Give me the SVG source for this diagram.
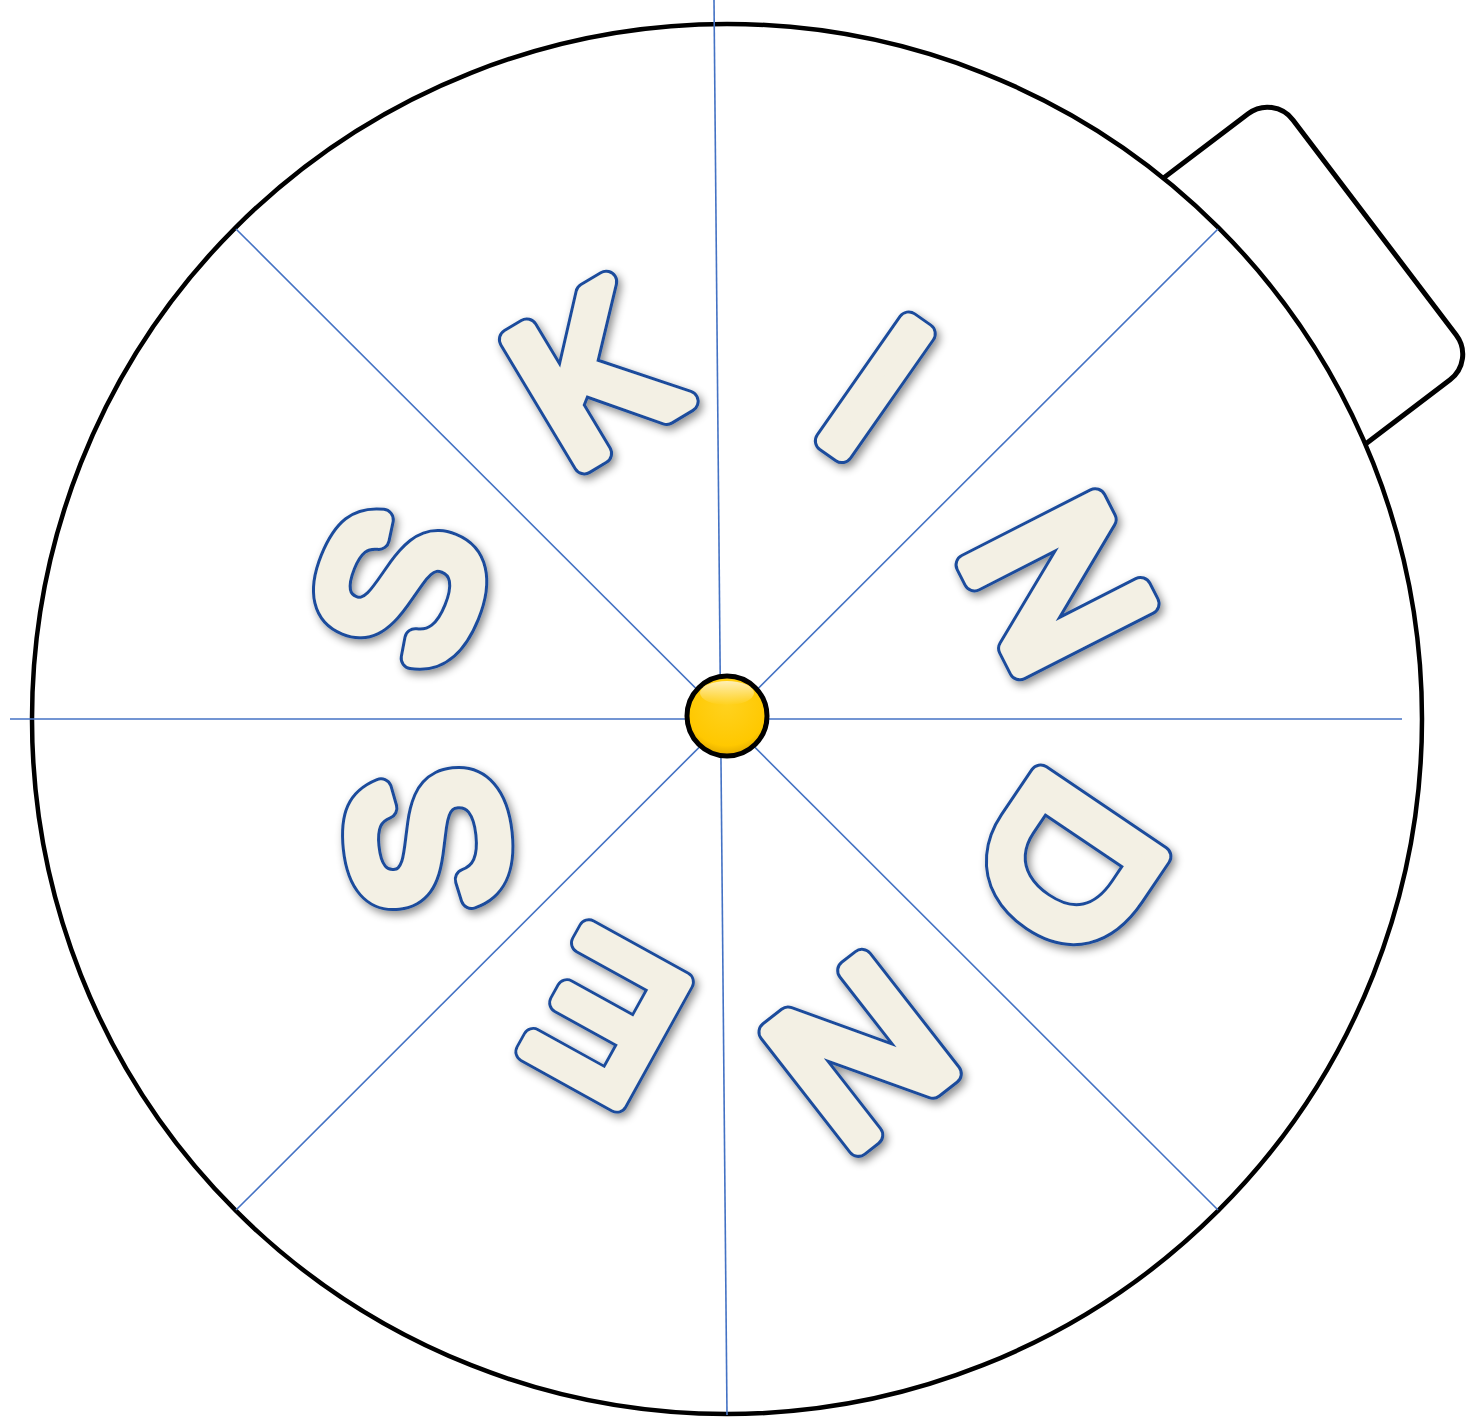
<svg xmlns="http://www.w3.org/2000/svg" xmlns:xlink="http://www.w3.org/1999/xlink" width="1470" height="1418" viewBox="0 0 1470 1418">
<style>
.rim{fill:#fff;stroke:#000;stroke-width:4.5}
.tab{fill:#fff;stroke:#000;stroke-width:5}
.ray{stroke:#4472C4;stroke-width:1.6;fill:none}
.lt{font-family:"Liberation Sans",Arial,sans-serif;font-size:210px;text-anchor:middle}
.lo{fill:#1A4C9C;stroke:#1A4C9C;stroke-width:24;stroke-linejoin:round}
.li{fill:#F3F0E4;stroke:#F3F0E4;stroke-width:18;stroke-linejoin:round}
</style>
<defs>
<filter id="sh" x="-30%" y="-30%" width="160%" height="160%">
<feDropShadow dx="3" dy="4" stdDeviation="4" flood-color="#000" flood-opacity="0.45"/>
</filter>
<radialGradient id="yg" cx="0.5" cy="0.35" r="0.65">
<stop offset="0" stop-color="#FFD21F"/>
<stop offset="0.8" stop-color="#FFC800"/>
<stop offset="1" stop-color="#E0A800"/>
</radialGradient>
<linearGradient id="hl" x1="0" y1="0" x2="0" y2="1">
<stop offset="0" stop-color="#fff" stop-opacity="0.7"/>
<stop offset="1" stop-color="#fff" stop-opacity="0"/>
</linearGradient>
</defs>

<g id="tab">
<rect class="tab" x="1327" y="552" width="213" height="334" rx="32" transform="rotate(-37.2 727 719)"/>
</g>
<g id="wheel">
<circle class="rim" cx="727" cy="719" r="695"/>
</g>
<g id="connectors">
<line class="ray" x1="714" y1="0" x2="727" y2="1415"/>
<line class="ray" x1="10" y1="719" x2="1402" y2="719"/>
<line class="ray" x1="236" y1="229" x2="1218" y2="1210"/>
<line class="ray" x1="1218" y1="229" x2="236" y2="1210"/>
</g>

<g id="letter-K" filter="url(#sh)"><g transform="translate(591 372) rotate(-31)">
<use class="lo" xlink:href="#tK"/><g class="li"><text id="tK" class="lt" x="0" y="75">K</text></g></g></g>
<g id="letter-I" filter="url(#sh)"><g transform="translate(877 385) rotate(35)">
<use class="lo" xlink:href="#tI"/><g class="li"><text id="tI" class="lt" x="0" y="75">I</text></g></g></g>
<g id="letter-N1" filter="url(#sh)"><g transform="translate(1060 583) rotate(63)">
<use class="lo" xlink:href="#tN1"/><g class="li"><text id="tN1" class="lt" x="0" y="75">N</text></g></g></g>
<g id="letter-D" filter="url(#sh)"><g transform="translate(1070 866) rotate(124)">
<use class="lo" xlink:href="#tD"/><g class="li"><text id="tD" class="lt" x="0" y="75">D</text></g></g></g>
<g id="letter-N2" filter="url(#sh)"><g transform="translate(862 1055) rotate(142)">
<use class="lo" xlink:href="#tN2"/><g class="li"><text id="tN2" class="lt" x="0" y="75">N</text></g></g></g>
<g id="letter-E" filter="url(#sh)"><g transform="translate(605 1020) rotate(209) scale(0.95)">
<use class="lo" xlink:href="#tE"/><g class="li"><text id="tE" class="lt" x="0" y="75">E</text></g></g></g>
<g id="letter-S1" filter="url(#sh)"><g transform="translate(425 842) rotate(264)">
<use class="lo" xlink:href="#tS1"/><g class="li"><text id="tS1" class="lt" x="0" y="75">S</text></g></g></g>
<g id="letter-S2" filter="url(#sh)"><g transform="translate(397 587) rotate(292)">
<use class="lo" xlink:href="#tS2"/><g class="li"><text id="tS2" class="lt" x="0" y="75">S</text></g></g></g>

<g id="hub">
<circle cx="727" cy="716" r="40" fill="url(#yg)" stroke="#000" stroke-width="5"/>
<ellipse cx="727" cy="693" rx="27" ry="12" fill="url(#hl)"/>
</g>
</svg>
